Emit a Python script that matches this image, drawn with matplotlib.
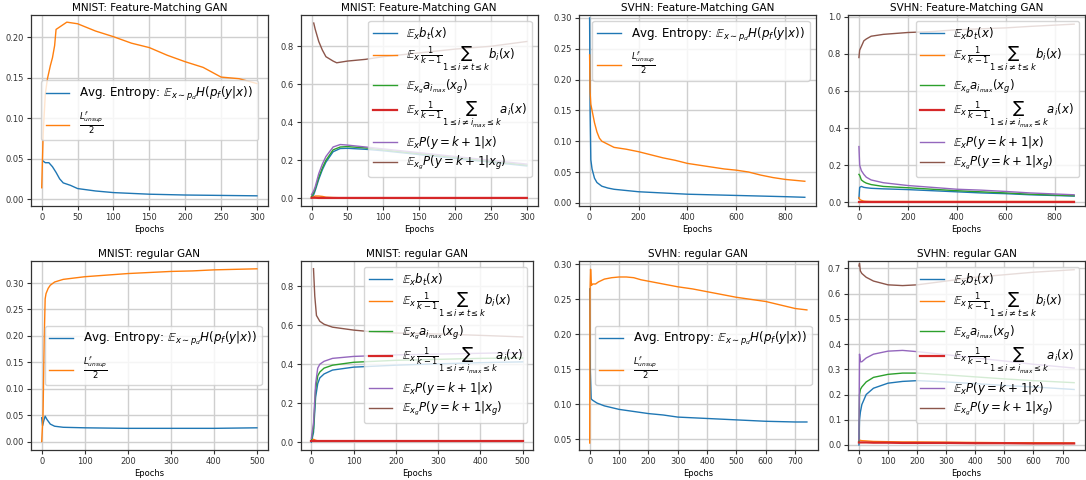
import numpy as np
import matplotlib
matplotlib.use('Agg')
import matplotlib.pyplot as plt

plt.rcParams.update({'font.size': 6, 'axes.linewidth': 0.9,
                     'axes.edgecolor': '#333333', 'xtick.color': '#333333',
                     'ytick.color': '#333333', 'grid.color': '#cfcfcf',
                     'grid.linewidth': 1.0, 'lines.linewidth': 1.0})

# ---------------- data ----------------
# MNIST feature-matching, entropy panel
mfm_x_ent = [2, 5, 10, 15, 20, 25, 30, 40, 50, 75, 100, 150, 200, 250, 300]
mfm_ent = [0.047, 0.045, 0.045, 0.040, 0.033, 0.025, 0.020, 0.017, 0.013,
           0.010, 0.008, 0.006, 0.005, 0.0045, 0.004]
mfm_x_loss = [0, 2, 5, 8, 12, 15, 18, 20, 25, 35, 50, 75, 100, 125, 150,
              175, 200, 225, 250, 275, 300]
mfm_loss = [0.014, 0.08, 0.13, 0.149, 0.165, 0.175, 0.19, 0.21, 0.213, 0.219,
            0.217, 0.208, 0.201, 0.193, 0.1875, 0.178, 0.170, 0.163, 0.151,
            0.149, 0.143]

# MNIST feature-matching, per-class panel
mfm_x = [0, 3, 5, 10, 15, 20, 30, 40, 50, 75, 100, 150, 200, 250, 300]
mfm_bt = [0.0, 0.02, 0.04, 0.10, 0.15, 0.19, 0.245, 0.262, 0.263, 0.258,
          0.25, 0.23, 0.21, 0.19, 0.17]
mfm_bi = [0.003, 0.008, 0.012, 0.012, 0.010, 0.006, 0.004, 0.003, 0.003,
          0.003, 0.003, 0.003, 0.003, 0.003, 0.003]
mfm_aimax = [0.01, 0.03, 0.05, 0.11, 0.16, 0.20, 0.255, 0.27, 0.272, 0.265,
             0.255, 0.235, 0.215, 0.195, 0.175]
mfm_ai = [0.003, 0.003, 0.003, 0.002, 0.002, 0.002, 0.002, 0.002, 0.002,
          0.002, 0.002, 0.002, 0.002, 0.002, 0.002]
mfm_px = [0.02, 0.04, 0.06, 0.13, 0.18, 0.22, 0.27, 0.283, 0.28, 0.27, 0.26,
          0.24, 0.22, 0.20, 0.18]
mfm_x_pg = [3, 5, 10, 15, 20, 30, 35, 50, 75, 100, 150, 200, 250, 300]
mfm_pg = [0.922, 0.89, 0.825, 0.78, 0.745, 0.722, 0.713, 0.722, 0.731, 0.745,
          0.765, 0.785, 0.80, 0.825]

# SVHN feature-matching, entropy panel
sfm_x = [0, 2, 5, 10, 20, 30, 40, 50, 75, 100, 150, 200, 250, 300, 350, 400,
         450, 500, 550, 600, 650, 700, 750, 800, 880]
sfm_ent = [0.30, 0.15, 0.07, 0.055, 0.04, 0.033, 0.030, 0.027, 0.024, 0.022,
           0.020, 0.018, 0.017, 0.016, 0.015, 0.014, 0.0135, 0.013, 0.0125,
           0.012, 0.0115, 0.011, 0.0105, 0.010, 0.009]
sfm_loss = [0.24, 0.18, 0.16, 0.15, 0.13, 0.115, 0.105, 0.10, 0.095, 0.09,
            0.087, 0.083, 0.078, 0.073, 0.069, 0.064, 0.061, 0.058, 0.055,
            0.053, 0.050, 0.045, 0.041, 0.038, 0.035]

# SVHN feature-matching, per-class panel
sfm_xc = [0, 3, 10, 20, 30, 50, 100, 200, 300, 400, 500, 600, 700, 880]
sfm_bt = [0.02, 0.08, 0.085, 0.08, 0.078, 0.075, 0.072, 0.068, 0.062, 0.056,
          0.05, 0.046, 0.04, 0.033]
sfm_bi = [0.025, 0.015, 0.010, 0.006, 0.005, 0.004, 0.004, 0.004, 0.004,
          0.004, 0.004, 0.004, 0.004, 0.004]
sfm_aimax = [0.15, 0.145, 0.12, 0.11, 0.103, 0.095, 0.085, 0.078, 0.07,
             0.062, 0.056, 0.05, 0.043, 0.035]
sfm_ai = [0.002] * 14
sfm_px = [0.30, 0.20, 0.17, 0.15, 0.135, 0.12, 0.105, 0.09, 0.08, 0.07,
          0.065, 0.058, 0.05, 0.04]
sfm_pg = [0.78, 0.82, 0.84, 0.87, 0.88, 0.895, 0.905, 0.915, 0.92, 0.93,
          0.935, 0.94, 0.948, 0.96]

# MNIST regular GAN, entropy panel
mrg_x = [0, 2, 5, 8, 12, 20, 30, 50, 100, 200, 300, 400, 500]
mrg_ent = [0.045, 0.03, 0.04, 0.048, 0.042, 0.033, 0.029, 0.027, 0.026,
           0.025, 0.025, 0.025, 0.026]
mrg_x_loss = [0, 3, 6, 8, 10, 15, 20, 30, 50, 100, 150, 200, 250, 300, 350,
              400, 450, 500]
mrg_loss = [0.0, 0.05, 0.20, 0.27, 0.28, 0.29, 0.296, 0.302, 0.307, 0.312,
            0.315, 0.318, 0.32, 0.322, 0.323, 0.325, 0.326, 0.327]

# MNIST regular GAN, per-class panel
mrg_xc = [0, 5, 10, 15, 20, 30, 50, 100, 200, 300, 400, 500]
mrg_bt = [0.0, 0.05, 0.23, 0.30, 0.33, 0.35, 0.37, 0.385, 0.395, 0.402,
          0.408, 0.412]
mrg_bi = [0.005, 0.015, 0.010, 0.007, 0.006, 0.006, 0.006, 0.006, 0.006,
          0.006, 0.006, 0.006]
mrg_aimax = [0.01, 0.07, 0.27, 0.34, 0.36, 0.38, 0.395, 0.41, 0.42, 0.425,
             0.43, 0.432]
mrg_ai = [0.004] * 12
mrg_px = [0.02, 0.10, 0.30, 0.38, 0.40, 0.415, 0.43, 0.44, 0.448, 0.452,
          0.456, 0.46]
mrg_x_pg = [5, 8, 12, 20, 30, 50, 100, 150, 200, 300, 400, 500]
mrg_pg = [0.89, 0.75, 0.65, 0.62, 0.605, 0.59, 0.575, 0.565, 0.56, 0.555,
          0.548, 0.54]

# SVHN regular GAN, entropy panel
srg_x = [0, 1, 3, 6, 10, 20, 30, 50, 75, 100, 125, 150, 175, 200, 250, 300,
         350, 400, 450, 500, 550, 600, 650, 700, 740]
srg_loss = [0.045, 0.26, 0.293, 0.27, 0.272, 0.272, 0.275, 0.279, 0.281,
            0.282, 0.282, 0.281, 0.278, 0.276, 0.272, 0.268, 0.265, 0.261,
            0.257, 0.253, 0.25, 0.247, 0.242, 0.237, 0.235]
srg_x_ent = [0, 2, 5, 10, 25, 50, 100, 150, 200, 250, 300, 400, 500, 600,
             700, 740]
srg_ent = [0.265, 0.15, 0.108, 0.106, 0.102, 0.098, 0.093, 0.09, 0.087,
           0.085, 0.082, 0.08, 0.078, 0.076, 0.075, 0.075]

# SVHN regular GAN, per-class panel
srg_xc = [0, 2, 5, 10, 25, 50, 100, 150, 200, 300, 400, 500, 600, 740]
srg_bt = [0.0, 0.10, 0.13, 0.16, 0.20, 0.225, 0.245, 0.252, 0.255, 0.25,
          0.243, 0.236, 0.23, 0.22]
srg_bi = [0.02, 0.02, 0.018, 0.017, 0.016, 0.014, 0.013, 0.012, 0.012,
          0.011, 0.010, 0.009, 0.009, 0.008]
srg_aimax = [0.01, 0.20, 0.22, 0.23, 0.25, 0.268, 0.28, 0.285, 0.285,
             0.278, 0.27, 0.262, 0.255, 0.247]
srg_ai = [0.01, 0.01, 0.01, 0.01, 0.01, 0.009, 0.009, 0.008, 0.008, 0.008,
          0.007, 0.007, 0.006, 0.006]
srg_px = [0.02, 0.36, 0.33, 0.33, 0.345, 0.36, 0.372, 0.375, 0.37, 0.358,
          0.345, 0.333, 0.32, 0.305]
srg_pg = [0.71, 0.72, 0.69, 0.68, 0.665, 0.65, 0.635, 0.632, 0.635, 0.65,
          0.665, 0.675, 0.685, 0.695]

ent_labels = [r'Avg. Entropy: $\mathbb{E}_{x\sim p_d}H(p_f(y|x))$',
              r'$\frac{L^f_{unsup}}{2}$']
cls_labels = [r'$\mathbb{E}_x b_t(x)$',
              r'$\mathbb{E}_x\,\frac{1}{k-1}\sum_{1\leq i\neq t\leq k} b_i(x)$',
              r'$\mathbb{E}_{x_g} a_{i_{max}}(x_g)$',
              r'$\mathbb{E}_x\,\frac{1}{k-1}\sum_{1\leq i\neq i_{max}\leq k} a_i(x)$',
              r'$\mathbb{E}_x P(y=k+1|x)$',
              r'$\mathbb{E}_{x_g} P(y=k+1|x_g)$']
colors = ['C0', 'C1', 'C2', 'C3', 'C4', 'C5']


def setup( ax, title, ylim, yticks, xticks ):
    ax.set_title( title, fontsize=7.5, pad=3 )
    ax.set_xlabel( 'Epochs', fontsize=6, labelpad=2 )
    ax.set_ylim( ylim )
    ax.set_yticks( yticks )
    ax.set_xticks( xticks )
    ax.grid( True )
    ax.tick_params( labelsize=6, length=3, pad=2 )


def entropy_panel( ax, ent, loss, loc ):
    ax.plot( ent[0], ent[1], color='C0', label=ent_labels[0] )
    ax.plot( loss[0], loss[1], color='C1', label=ent_labels[1] )
    ax.legend( loc=loc, fontsize=8.6, framealpha=0.8 )


def class_panel( ax, series ):
    for i, (x, y) in enumerate( series ):
        lw = 1.6 if i == 3 else 1.0
        ax.plot( x, y, color=colors[i], lw=lw, label=cls_labels[i] )
    ax.legend( loc='upper right', fontsize=8.5, framealpha=0.8,
               labelspacing=0.3 )


fig = plt.figure( figsize=(10.86, 4.8), dpi=100 )
lefts = [0.0285, 0.277, 0.533, 0.781]
w = 0.218
top_b, top_h = 0.571, 0.398
bot_b, bot_h = 0.0625, 0.394

ax = fig.add_axes( [lefts[0], top_b, w, top_h] )
entropy_panel( ax, (mfm_x_ent, mfm_ent), (mfm_x_loss, mfm_loss), 'center' )
setup( ax, 'MNIST: Feature-Matching GAN', (-0.0085, 0.228),
       np.arange(0, 0.21, 0.05), range(0, 301, 50) )

ax = fig.add_axes( [lefts[1], top_b, w, top_h] )
class_panel( ax, [(mfm_x, mfm_bt), (mfm_x, mfm_bi), (mfm_x, mfm_aimax),
                  (mfm_x, mfm_ai), (mfm_x, mfm_px), (mfm_x_pg, mfm_pg)] )
setup( ax, 'MNIST: Feature-Matching GAN', (-0.04, 0.965),
       np.arange(0, 0.81, 0.2), range(0, 301, 50) )

ax = fig.add_axes( [lefts[2], top_b, w, top_h] )
entropy_panel( ax, (sfm_x, sfm_ent), (sfm_x, sfm_loss), 'upper right' )
setup( ax, 'SVHN: Feature-Matching GAN', (-0.005, 0.305),
       np.arange(0, 0.31, 0.05), range(0, 801, 200) )

ax = fig.add_axes( [lefts[3], top_b, w, top_h] )
class_panel( ax, [(sfm_xc, sfm_bt), (sfm_xc, sfm_bi), (sfm_xc, sfm_aimax),
                  (sfm_xc, sfm_ai), (sfm_xc, sfm_px), (sfm_xc, sfm_pg)] )
setup( ax, 'SVHN: Feature-Matching GAN', (-0.02, 1.01),
       np.arange(0, 1.01, 0.2), range(0, 801, 200) )

ax = fig.add_axes( [lefts[0], bot_b, w, bot_h] )
entropy_panel( ax, (mrg_x, mrg_ent), (mrg_x_loss, mrg_loss), 'center right' )
setup( ax, 'MNIST: regular GAN', (-0.016, 0.342),
       np.arange(0, 0.31, 0.05), range(0, 501, 100) )

ax = fig.add_axes( [lefts[1], bot_b, 0.214, bot_h] )
class_panel( ax, [(mrg_xc, mrg_bt), (mrg_xc, mrg_bi), (mrg_xc, mrg_aimax),
                  (mrg_xc, mrg_ai), (mrg_xc, mrg_px), (mrg_x_pg, mrg_pg)] )
setup( ax, 'MNIST: regular GAN', (-0.04, 0.93),
       np.arange(0, 0.81, 0.2), range(0, 501, 100) )

ax = fig.add_axes( [lefts[2], bot_b, 0.22, bot_h] )
entropy_panel( ax, (srg_x_ent, srg_ent), (srg_x, srg_loss), 'center right' )
setup( ax, 'SVHN: regular GAN', (0.035, 0.305),
       np.arange(0.05, 0.31, 0.05), range(0, 701, 100) )

ax = fig.add_axes( [lefts[3], bot_b, w, bot_h] )
class_panel( ax, [(srg_xc, srg_bt), (srg_xc, srg_bi), (srg_xc, srg_aimax),
                  (srg_xc, srg_ai), (srg_xc, srg_px), (srg_xc, srg_pg)] )
setup( ax, 'SVHN: regular GAN', (-0.02, 0.73),
       np.arange(0, 0.71, 0.1), range(0, 701, 100) )

fig.savefig( 'out.png', dpi=100 )
plt.close( fig )
